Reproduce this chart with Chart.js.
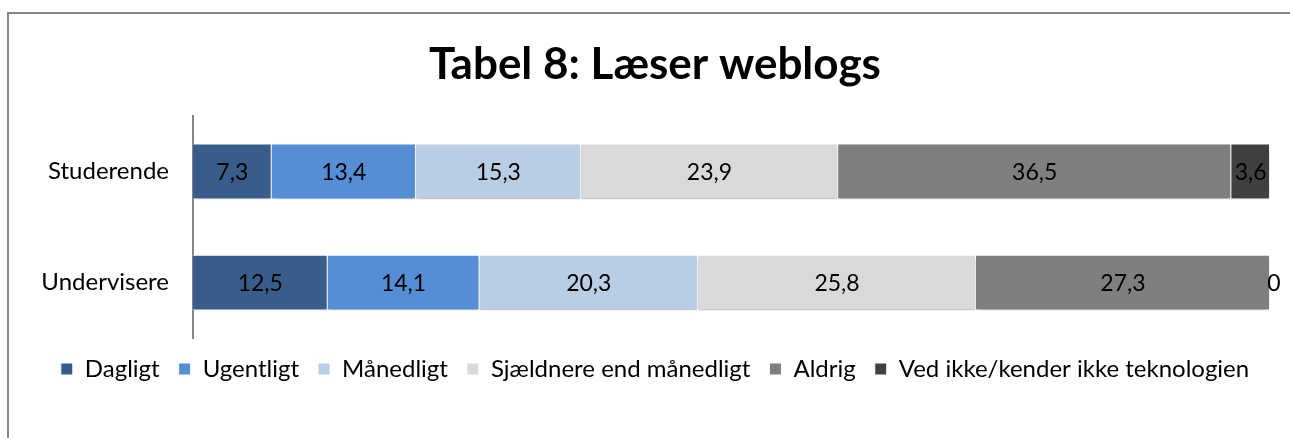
<!DOCTYPE html>
<html>
<head>
<meta charset="utf-8">
<script src="https://cdn.jsdelivr.net/npm/chart.js@4.4.1/dist/chart.umd.min.js"></script>
<style>
  html, body { margin: 0; padding: 0; background: #fff; overflow: hidden; }
  #frame {
    position: absolute; left: 7px; top: 12px; width: 1300px; height: 440px;
    border-top: 2.5px solid #868686; border-left: 2.5px solid #868686;
  }
  #wrap { position: absolute; left: 0; top: 0; width: 1300px; height: 438px; }
</style>
</head>
<body>
<div id="frame"></div>
<div id="wrap"><canvas id="grafico"></canvas></div>
<script>
// ============ DATOS ============
const grupos = ['Studerende', 'Undervisere'];
const kategorier = ['Dagligt', 'Ugentligt', 'Månedligt', 'Sjældnere end månedligt', 'Aldrig', 'Ved ikke/kender ikke teknologien'];
const dagligt = [7.3, 12.5];
const ugentligt = [13.4, 14.1];
const maanedligt = [15.3, 20.3];
const sjaeldnere = [23.9, 25.8];
const aldrig = [36.5, 27.3];
const vedIkke = [3.6, 0];
const farver = ['#385D8A', '#558ED5', '#B9CDE5', '#D9D9D9', '#7F7F7F', '#404040'];

const serier = [dagligt, ugentligt, maanedligt, sjaeldnere, aldrig, vedIkke];
const fontFam = 'Lato, "Open Sans", sans-serif';

// Skygge under bjælkerne
const skygge = {
    id: 'skygge',
    beforeDatasetsDraw(chart) {
        const ctx = chart.ctx;
        ctx.save();
        ctx.shadowColor = 'rgba(0,0,0,0.25)';
        ctx.shadowOffsetY = 3;
        ctx.shadowBlur = 3;
    },
    afterDatasetsDraw(chart) {
        chart.ctx.restore();
    }
};

// Værdier midt i hver bjælke
const etiketter = {
    id: 'etiketter',
    afterDraw(chart) {
        const ctx = chart.ctx;
        ctx.save();
        ctx.font = '23px ' + fontFam;
        ctx.fillStyle = '#000';
        ctx.textAlign = 'center';
        ctx.textBaseline = 'middle';
        chart.data.datasets.forEach((ds, i) => {
            const meta = chart.getDatasetMeta(i);
            meta.data.forEach((bar, j) => {
                const v = ds.data[j];
                const p = bar.getProps(['x', 'y', 'base'], true);
                let x = (p.x + p.base) / 2;
                if (v === 0) x = p.x + 4;
                ctx.fillText(String(v).replace('.', ','), x, p.y + 1);
            });
        });
        ctx.restore();
    }
};

const ctx = document.getElementById('grafico').getContext('2d');
new Chart(ctx, {
    type: 'bar',
    data: {
        labels: grupos,
        datasets: kategorier.map((navn, i) => ({
            label: navn,
            data: serier[i],
            backgroundColor: farver[i],
            borderColor: '#ffffff',
            borderWidth: 1,
            barPercentage: 0.5,
            categoryPercentage: 1
        }))
    },
    options: {
        indexAxis: 'y',
        responsive: true,
        maintainAspectRatio: false,
        animation: false,
        layout: { padding: { left: 40, right: 30, top: 38, bottom: 47 } },
        scales: {
            x: { stacked: true, min: 0, max: 100, display: false },
            y: {
                stacked: true,
                grid: { display: false, drawTicks: false },
                border: { color: '#868686', width: 2 },
                ticks: { color: '#000', font: { size: 24, family: fontFam }, padding: 24 },
                afterFit(scale) { scale.width = 153; }
            }
        },
        plugins: {
            title: {
                display: true,
                text: 'Tabel 8: Læser weblogs',
                color: '#000',
                font: { size: 44, weight: 'bold', family: fontFam },
                padding: { top: 0, bottom: 25 }
            },
            legend: {
                position: 'bottom',
                labels: {
                    color: '#000',
                    font: { size: 24, family: fontFam, lineHeight: 1 },
                    boxWidth: 12, boxHeight: 12,
                    padding: 19
                }
            },
            tooltip: { enabled: false }
        }
    },
    plugins: [skygge, etiketter]
});
</script>
</body>
</html>
